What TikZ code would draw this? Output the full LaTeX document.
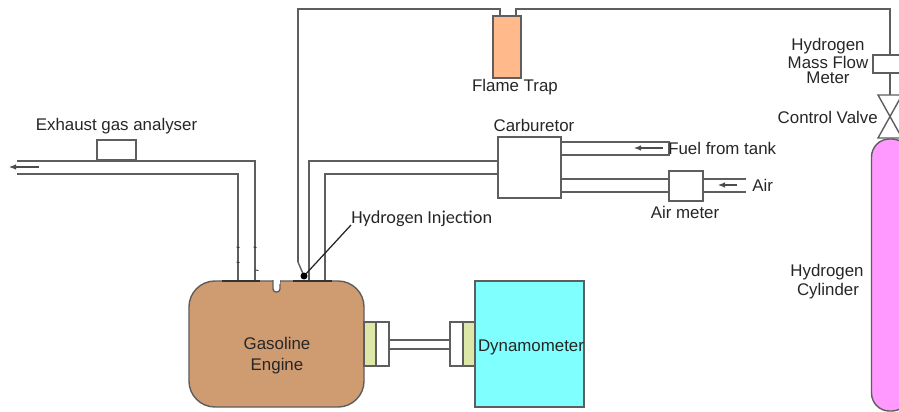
\documentclass[tikz,border=0pt]{standalone}
\usepackage{fontspec}
\setmainfont{Liberation Sans}
\newfontfamily\labelfont{Carlito}
\usetikzlibrary{arrows.meta}
\definecolor{pipegray}{HTML}{5E5E5E}
\definecolor{enginebrown}{HTML}{CF9C72}
\definecolor{dynocyan}{HTML}{80FFFF}
\definecolor{traporange}{HTML}{FFB98A}
\definecolor{cylpink}{HTML}{FF99FF}
\definecolor{coupgreen}{HTML}{DDE8A8}
\tikzset{
    pipe/.style={draw=pipegray,line width=1pt},
    flange/.style={draw=black!80,line width=1.2pt},
    flowarrow/.style={draw=black!70,line width=0.8pt,-{Latex[length=5pt,width=4pt]}},
    box/.style={draw=pipegray,line width=1pt,fill=white,inner sep=0pt},
    txt/.style={inner sep=0pt,text=black!85,font=\fontsize{12}{14}\selectfont}
}
\begin{document}
\begin{tikzpicture}[x=0.025cm,y=-0.025cm]
            \useasboundingbox (0,0) rectangle (899,412);
            \node[box,rounded corners=0.65cm,fill=enginebrown,minimum width=4.375cm,minimum height=3.15cm] (engine) at (276.5,344) {};
            \node[box,fill=dynocyan,minimum width=2.725cm,minimum height=3.15cm] (dyno) at (529.5,344) {};
            \node[box,fill=traporange,minimum width=0.7cm,minimum height=1.55cm] (trap) at (507,47) {};
            \node[box,minimum width=1.575cm,minimum height=1.525cm] (carb) at (529.5,167.5) {};
            \node[box,minimum width=0.85cm,minimum height=0.75cm] (airmeter) at (686,186) {};
            \node[box,minimum width=0.975cm,minimum height=0.5cm] (analyser) at (116.5,150) {};
            \node[box,minimum width=0.85cm,minimum height=0.45cm] (flow) at (890,64) {};
            \node[box,rounded corners=0.45cm,fill=cylpink,minimum width=0.95cm,minimum height=6.8cm] (cyl) at (890.5,275) {};
            \node[box,fill=coupgreen,minimum width=0.3cm,minimum height=1.1cm] (coupA) at (370,344) {};
            \node[box,minimum width=0.325cm,minimum height=1.1cm] (coupB) at (382.5,344) {};
            \node[box,minimum width=0.325cm,minimum height=1.1cm] (coupC) at (456.5,344) {};
            \node[box,fill=coupgreen,minimum width=0.3cm,minimum height=1.1cm] (coupD) at (469,344) {};
            \coordinate (valvetop) at (890,95);
            \coordinate (trapl) at (500,16);
            \coordinate (trapr) at (516,16);
            \coordinate (inj) at (304,276);
            \coordinate (injbend) at (298,262);
            \coordinate (injlabel) at (351,225);
            \draw[pipe] (trapl) -- (500,9) -| (injbend);
            \draw[pipe] (injbend) -- (inj);
            \draw[pipe] (trapr) -- (516,9) -| (flow.north);
            \draw[pipe] (flow.south) -- (valvetop);
            \draw[pipe,fill=white] (valvetop) ++(-12,0) -- ++(24,0) -- ++(-24,43) -- ++(24,0) -- cycle;
            \draw[pipe] (17,161) -- (255,161) -- (255,281);
            \draw[pipe] (17,174) -- (238,174) -- (238,281);
            \draw[flowarrow] (39,167) -- (9,167);
            \draw[pipe] (309,281) |- (carb.west |- 0,161);
            \draw[pipe] (325,281) |- (carb.west |- 0,174);
            \draw[pipe] (carb.east |- 0,142) -- (669,142) -- (669,155) -- (carb.east |- 0,155);
            \draw[flowarrow] (663,148) -- (634,148);
            \draw[pipe] (carb.east |- 0,179) -- (airmeter.west |- 0,179);
            \draw[pipe] (carb.east |- 0,192) -- (airmeter.west |- 0,192);
            \draw[pipe] (airmeter.east |- 0,179) -- (746,179);
            \draw[pipe] (airmeter.east |- 0,192) -- (746,192);
            \draw[flowarrow] (737,185) -- (718,185);
            \draw[pipe] (coupB.east |- 0,340) -- (coupC.west |- 0,340);
            \draw[pipe] (coupB.east |- 0,349) -- (coupC.west |- 0,349);
            \draw[flange] (222,281) -- (260,281);
            \draw[flange] (293,281) -- (332,281);
            \draw[pipe,fill=white] (273,280) -- (273,289) to[out=-90,in=-90,looseness=1.5] (280,289) -- (280,280);
            \fill[white] (273.5,279) rectangle (279.5,284);
            \foreach \tx/\ty in {238/247,238/262,255/247,257/270}
                \draw[black!80,line width=0.6pt] (\tx-1.5,\ty) -- (\tx+1.5,\ty+0.5);
            \draw[black!85,line width=0.9pt] (inj) -- (injlabel);
            \fill[black] (inj) circle (3.5);
            \node[txt] (analyserlabel) at (116.5,126) {Exhaust gas analyser};
            \node[txt] (traplabel) at (515,87) {Flame Trap};
            \node[txt] (carblabel) at (534,125) {Carburetor};
            \node[txt,anchor=west] (fuellabel) at (668,148.5) {Fuel from tank};
            \node[txt,anchor=west] (airlabel) at (752,185.5) {Air};
            \node[txt] (meterlabel) at (685,212) {Air meter};
            \node[txt,font=\labelfont\fontsize{13}{15}\selectfont,anchor=west] (injtext) at (351,219) {Hydrogen Injection};
            \node[txt] (flowlabelA) at (828,46) {Hydrogen};
            \node[txt] (flowlabelB) at (828,62) {Mass Flow};
            \node[txt] (flowlabelC) at (828,78) {Meter};
            \node[txt,anchor=east] (valvelabel) at (878,117) {Control Valve};
            \node[txt] (cyllabelA) at (827,272) {Hydrogen};
            \node[txt] (cyllabelB) at (828,291) {Cylinder};
            \node[txt] (enginelabelA) at (277,343) {Gasoline};
            \node[txt] (enginelabelB) at (277,366) {Engine};
            \node[txt] (dynolabel) at (531,347) {Dynamometer};
        \end{tikzpicture}
\end{document}
